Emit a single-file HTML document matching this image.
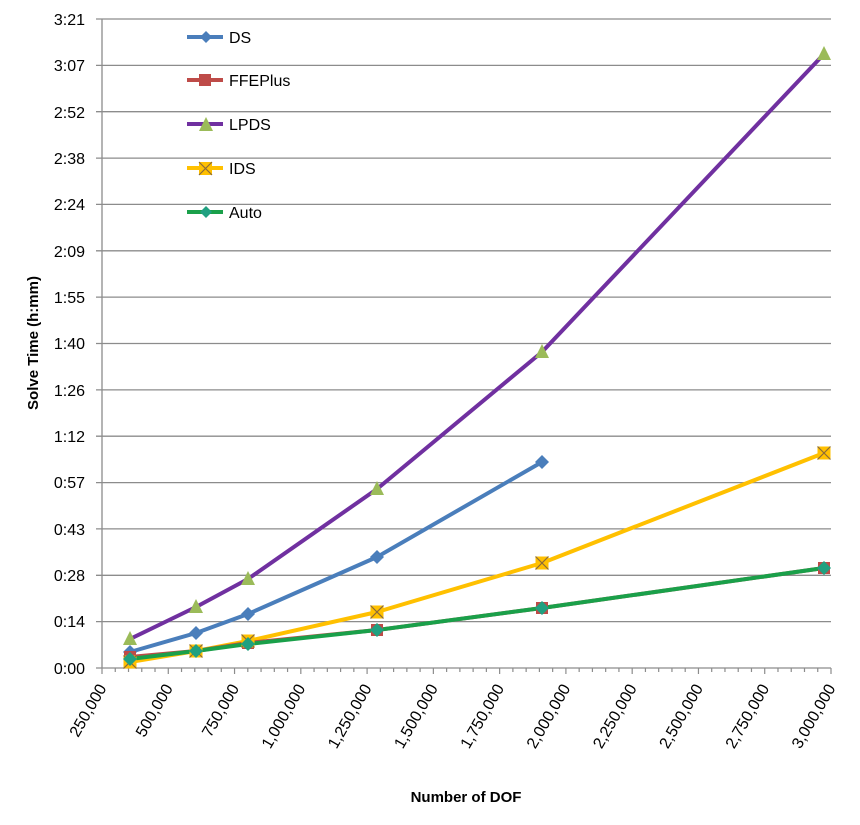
<!DOCTYPE html>
<html><head><meta charset="utf-8"><style>
html,body{margin:0;padding:0;background:#fff;}
svg{display:block;font-family:"Liberation Sans",sans-serif;}
</style></head><body>
<svg width="860" height="825" viewBox="0 0 860 825" xmlns="http://www.w3.org/2000/svg">
<g stroke="#8c8c8c" stroke-width="1.3">
<line x1="96" y1="19" x2="831" y2="19"/>
<line x1="96" y1="65.4" x2="831" y2="65.4"/>
<line x1="96" y1="111.7" x2="831" y2="111.7"/>
<line x1="96" y1="158.1" x2="831" y2="158.1"/>
<line x1="96" y1="204.4" x2="831" y2="204.4"/>
<line x1="96" y1="250.8" x2="831" y2="250.8"/>
<line x1="96" y1="297.1" x2="831" y2="297.1"/>
<line x1="96" y1="343.5" x2="831" y2="343.5"/>
<line x1="96" y1="389.9" x2="831" y2="389.9"/>
<line x1="96" y1="436.2" x2="831" y2="436.2"/>
<line x1="96" y1="482.6" x2="831" y2="482.6"/>
<line x1="96" y1="528.9" x2="831" y2="528.9"/>
<line x1="96" y1="575.3" x2="831" y2="575.3"/>
<line x1="96" y1="621.6" x2="831" y2="621.6"/>
<line x1="96" y1="668" x2="831" y2="668"/>
<line x1="102" y1="19" x2="102" y2="668"/>
</g>
<g id="ticks" stroke="#8c8c8c" stroke-width="1.2"></g>
<g font-size="16" fill="#000" text-anchor="end">
<text x="85" y="25">3:21</text><text x="85" y="71">3:07</text><text x="85" y="118">2:52</text>
<text x="85" y="164">2:38</text><text x="85" y="210">2:24</text><text x="85" y="257">2:09</text>
<text x="85" y="303">1:55</text><text x="85" y="349">1:40</text><text x="85" y="396">1:26</text>
<text x="85" y="442">1:12</text><text x="85" y="488">0:57</text><text x="85" y="535">0:43</text>
<text x="85" y="581">0:28</text><text x="85" y="627">0:14</text><text x="85" y="674">0:00</text>
</g>
<g id="xl" font-size="16" fill="#000" text-anchor="end"></g>
<text x="466" y="802" font-size="15" font-weight="bold" text-anchor="middle">Number of DOF</text>
<text transform="translate(38,343) rotate(-90)" font-size="15" font-weight="bold" text-anchor="middle">Solve Time (h:mm)</text>
<g fill="none" stroke-width="4" stroke-linejoin="round">
<polyline stroke="#7030a0" points="130,639 196,607 248,579 377,489 542,352 824,54"/>
<polyline stroke="#4a7ebb" points="130,652 196,633 248,614 377,557 542,462"/>
<polyline stroke="#ffc000" points="130,662 196,651 248,641 377,612 542,563 824,453"/>
<polyline stroke="#be4b48" points="130,657 196,651 248,643 377,630 542,608 824,568"/>
<polyline stroke="#1aa04a" points="130,659 196,651 248,644 377,630 542,608 824,568"/>
</g>
<g id="mk"></g>
<g font-size="16" fill="#000">
<line x1="187" y1="37" x2="223" y2="37" stroke="#4a7ebb" stroke-width="4"/><polygon points="206,31 212,37 206,43 200,37" fill="#4a7ebb"/><text x="229" y="43">DS</text>
<line x1="187" y1="80" x2="223" y2="80" stroke="#be4b48" stroke-width="4"/><rect x="199" y="74" width="12" height="12" fill="#be4b48"/><text x="229" y="86">FFEPlus</text>
<line x1="187" y1="124" x2="223" y2="124" stroke="#7030a0" stroke-width="4"/><polygon points="206,117 213,131 199,131" fill="#9bbb59"/><text x="229" y="130">LPDS</text>
<line x1="187" y1="168" x2="223" y2="168" stroke="#ffc000" stroke-width="4"/><rect x="199" y="162" width="13" height="13" fill="#ffc000"/><path d="M199,162 L212,175 M212,162 L199,175" stroke="#8a6a3a" stroke-width="1.2"/><text x="229" y="174">IDS</text>
<line x1="187" y1="212" x2="223" y2="212" stroke="#1aa04a" stroke-width="4"/><polygon points="206,206 212,212 206,218 200,212" fill="#20a080"/><text x="229" y="218">Auto</text>
</g>
<script>
var ns="http://www.w3.org/2000/svg";
function el(t,a,p){var e=document.createElementNS(ns,t);for(var k in a)e.setAttribute(k,a[k]);p.appendChild(e);return e;}
var tk=document.getElementById("ticks"),xl=document.getElementById("xl"),mk=document.getElementById("mk");
var labs=["250,000","500,000","750,000","1,000,000","1,250,000","1,500,000","1,750,000","2,000,000","2,250,000","2,500,000","2,750,000","3,000,000"];
for(var i=0;i<=55;i++){var x=102+i*729/55;var maj=i%5==0;el("line",{x1:x,y1:668,x2:x,y2:maj?674:672},tk);}
for(var i=0;i<12;i++){var x=102+i*66.27;var t=el("text",{transform:"translate("+(x+5)+",688) rotate(-60)"},xl);t.textContent=labs[i];}
function dia(x,y,c){el("polygon",{points:(x)+","+(y-7)+" "+(x+7)+","+y+" "+x+","+(y+7)+" "+(x-7)+","+y,fill:c},mk);}
function sq(x,y){el("rect",{x:x-6,y:y-6,width:12,height:12,fill:"#be4b48"},mk);}
function tri(x,y){el("polygon",{points:x+","+(y-8)+" "+(x+7)+","+(y+6)+" "+(x-7)+","+(y+6),fill:"#9bbb59"},mk);}
function xs(x,y){el("rect",{x:x-6.5,y:y-6.5,width:13,height:13,fill:"#ffc000"},mk);el("path",{d:"M"+(x-6.5)+","+(y-6.5)+" L"+(x+6.5)+","+(y+6.5)+" M"+(x+6.5)+","+(y-6.5)+" L"+(x-6.5)+","+(y+6.5),stroke:"#8a6a3a","stroke-width":1.2},mk);}
[[130,639],[196,607],[248,579],[377,489],[542,352],[824,54]].forEach(function(p){tri(p[0],p[1]);});
[[130,652],[196,633],[248,614],[377,557],[542,462]].forEach(function(p){dia(p[0],p[1],"#4a7ebb");});
[[130,657],[196,651],[248,643],[377,630],[542,608],[824,568]].forEach(function(p){sq(p[0],p[1]);});
[[130,662],[196,651],[248,641],[377,612],[542,563],[824,453]].forEach(function(p){xs(p[0],p[1]);});
[[130,659],[196,651],[248,644],[377,630],[542,608],[824,568]].forEach(function(p){dia(p[0],p[1],"#20a080");});
</script>
</svg>
</body></html>
